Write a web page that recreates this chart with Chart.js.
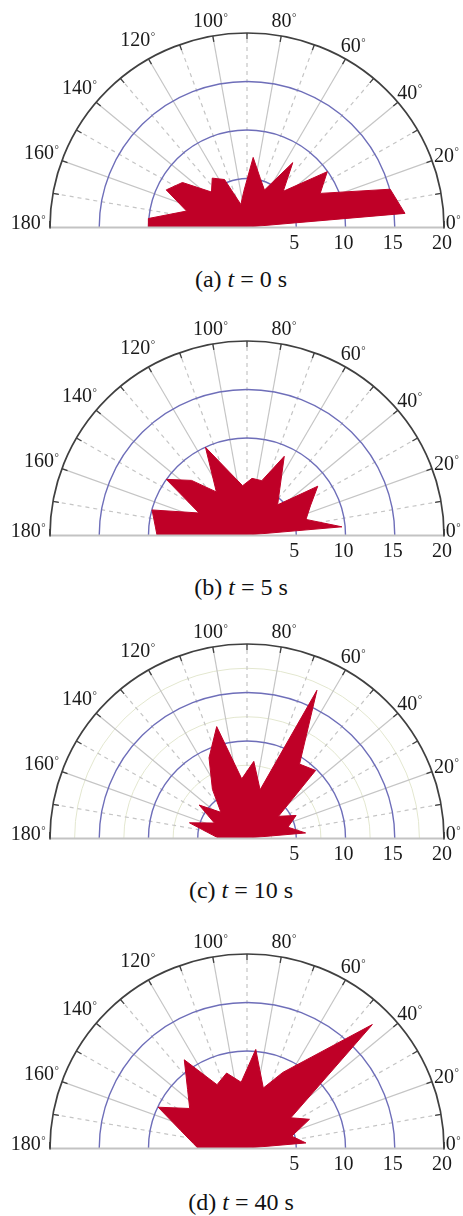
<!DOCTYPE html>
<html>
<head>
<meta charset="utf-8">
<script src="https://cdn.jsdelivr.net/npm/chart.js@4.4.1/dist/chart.umd.min.js"></script>
<style>
  html, body { margin: 0; padding: 0; background: #fff; }
  body { width: 463px; height: 1216px; position: relative; overflow: hidden; }
  canvas { position: absolute; left: 0; }
  .cap {
    position: absolute; left: 241px; transform: translate(-50%, -50%);
    font-family: "Liberation Serif", "Times New Roman", serif;
    font-size: 24px; color: #111; white-space: nowrap; line-height: 1;
  }
  .cap i { font-style: italic; }
</style>
</head>
<body>
<script>
// Direction of each polygon vertex (degrees), from 180° round to 0°
const ANGLES = [180, 175, 165, 155, 145, 135, 125, 115, 105, 95, 85, 75, 65, 55, 45, 35, 25, 15, 5, 0];

// Radial length at each direction, one series per time step
const R_T0  = [10.0, 10.05, 6.35, 9.05, 8.0, 5.1, 6.15, 5.4, 2.4, 3.7, 7.2, 5.2, 4.2, 8.1, 5.2, 9.95, 8.2, 15.05, 16.1, 0];
const R_T5  = [9.14, 9.33, 9.98, 5.37, 10.0, 7.96, 5.42, 9.98, 6.64, 5.1, 5.86, 5.8, 8.95, 5.8, 4.4, 8.77, 7.1, 6.2, 9.67, 0];
const R_T10 = [2.9, 3.5, 6.05, 3.65, 5.93, 3.74, 6.12, 9.12, 11.89, 6.12, 7.93, 5.14, 16.8, 9.3, 9.85, 3.9, 5.5, 4.3, 5.97, 0];
const R_T40 = [5.0, 5.48, 6.97, 9.95, 7.1, 8.53, 11.1, 7.2, 8.0, 6.8, 10.2, 6.4, 8.6, 11.46, 18.0, 5.43, 7.0, 4.7, 6.0, 0];

const SERIES = [R_T0, R_T5, R_T10, R_T40];
const PANEL_LETTERS = ['a', 'b', 'c', 'd'];
const PANEL_TIMES = [0, 5, 10, 40];

// Axis ticks
const RING_VALUES = [5, 10, 15, 20];
const RING_LABELS = ['5', '10', '15', '20'];
const MINOR_RING_VALUES = [2.5, 7.5, 12.5, 17.5];
const ANGLE_TICKS = [0, 20, 40, 60, 80, 100, 120, 140, 160, 180];
const R_MAX = 20;

// Page layout: baseline of each half-disc and caption centre (px)
const BASELINES = [227, 535, 838, 1148];
const CAPTION_Y = [279, 587, 890, 1202];
const CANVAS_H = 262;
const BASE_IN_CANVAS = 227;

const FILL_RED = '#bf0027';
const NUM_FONT = '20px "Liberation Serif", "Times New Roman", serif';
const DEG_FONT = '11px "Liberation Serif", "Times New Roman", serif';
const rad = d => d * Math.PI / 180;

function drawDegreeLabel(ctx, text, x, y) {
  ctx.font = NUM_FONT;
  const wn = ctx.measureText(text).width;
  ctx.font = DEG_FONT;
  const wd = ctx.measureText('\u00B0').width;
  const left = x - (wn + wd) / 2;
  const base = y + 7;
  ctx.textAlign = 'left';
  ctx.textBaseline = 'alphabetic';
  ctx.font = NUM_FONT;
  ctx.fillText(text, left, base);
  ctx.font = DEG_FONT;
  ctx.fillText('\u00B0', left + wn + 0.5, base - 6.5);
}

// Half-polar grid: spokes, rings, outer frame, tick marks and labels
const polarGrid = {
  id: 'polarGrid',
  beforeDatasetsDraw(chart, args, opts) {
    const { ctx, scales: { x, y } } = chart;
    const cx = x.getPixelForValue(0), cy = y.getPixelForValue(0);
    const rx = v => x.getPixelForValue(v) - cx;
    const ry = v => cy - y.getPixelForValue(v);
    const pt = (r, deg) => [x.getPixelForValue(r * Math.cos(rad(deg))), y.getPixelForValue(r * Math.sin(rad(deg)))];
    ctx.save();
    if (opts.minorRings) {
      ctx.strokeStyle = '#e3e7cf';
      ctx.lineWidth = 1;
      for (const v of MINOR_RING_VALUES) {
        ctx.beginPath();
        ctx.ellipse(cx, cy, rx(v), ry(v), 0, Math.PI, 2 * Math.PI);
        ctx.stroke();
      }
    }
    // spokes: solid every 20°, dashed in between
    ctx.strokeStyle = '#c5c5c5';
    ctx.lineWidth = 1.2;
    for (let a = 10; a < 180; a += 10) {
      const [px, py] = pt(R_MAX, a);
      ctx.setLineDash(a % 20 === 0 ? [] : [4, 4]);
      ctx.beginPath();
      ctx.moveTo(cx, cy);
      ctx.lineTo(px, py);
      ctx.stroke();
    }
    ctx.setLineDash([]);
    // inner rings
    ctx.strokeStyle = '#6e6eb9';
    ctx.lineWidth = 1.4;
    for (const v of RING_VALUES) {
      if (v === R_MAX) continue;
      ctx.beginPath();
      ctx.ellipse(cx, cy, rx(v), ry(v), 0, Math.PI, 2 * Math.PI);
      ctx.stroke();
    }
    // outer frame
    ctx.strokeStyle = '#404040';
    ctx.lineWidth = 1.7;
    ctx.beginPath();
    ctx.ellipse(cx, cy, rx(R_MAX), ry(R_MAX), 0, Math.PI, 2 * Math.PI);
    ctx.stroke();
    // tick marks every 10° on the frame
    ctx.lineWidth = 1.3;
    const inner = R_MAX - 6 / (rx(1));
    for (let a = 10; a < 180; a += 10) {
      const [ox, oy] = pt(R_MAX, a);
      const [ix, iy] = pt(inner, a);
      ctx.beginPath();
      ctx.moveTo(ox, oy);
      ctx.lineTo(ix, iy);
      ctx.stroke();
    }
    ctx.restore();
  },
  afterDatasetsDraw(chart) {
    const { ctx, scales: { x, y } } = chart;
    const cx = x.getPixelForValue(0), cy = y.getPixelForValue(0);
    const unit = x.getPixelForValue(1) - cx;
    const pt = (r, deg) => [x.getPixelForValue(r * Math.cos(rad(deg))), y.getPixelForValue(r * Math.sin(rad(deg)))];
    ctx.save();
    // baseline
    ctx.strokeStyle = '#c3c3c3';
    ctx.lineWidth = 2;
    ctx.beginPath();
    ctx.moveTo(x.getPixelForValue(-R_MAX), cy + 0.5);
    ctx.lineTo(x.getPixelForValue(R_MAX), cy + 0.5);
    ctx.stroke();
    ctx.strokeStyle = '#404040';
    ctx.lineWidth = 1.7;
    for (const v of [-R_MAX, R_MAX]) {
      const px = x.getPixelForValue(v);
      ctx.beginPath();
      ctx.moveTo(px, cy - 6);
      ctx.lineTo(px, cy + 1.5);
      ctx.stroke();
    }
    // angle labels
    ctx.fillStyle = '#1a1a1a';
    for (const a of ANGLE_TICKS) {
      const gap = a === 0 ? 9 : (a <= 100 ? 15 : 22);
      const [px, py] = pt(R_MAX + gap / unit, a);
      const dy = (a === 0 || a === 180) ? -5 : -1;
      drawDegreeLabel(ctx, String(a), px, py + dy);
    }
    // radial labels under the baseline
    ctx.font = NUM_FONT;
    ctx.textAlign = 'center';
    ctx.textBaseline = 'middle';
    RING_VALUES.forEach((v, i) => {
      ctx.fillText(RING_LABELS[i], x.getPixelForValue(v) - 2, cy + 17);
    });
    ctx.restore();
  }
};

SERIES.forEach((radii, i) => {
  const canvas = document.createElement('canvas');
  canvas.width = 463;
  canvas.height = CANVAS_H;
  canvas.style.top = (BASELINES[i] - BASE_IN_CANVAS) + 'px';
  document.body.appendChild(canvas);

  const cap = document.createElement('div');
  cap.className = 'cap';
  cap.style.top = CAPTION_Y[i] + 'px';
  cap.innerHTML = '(' + PANEL_LETTERS[i] + ') <i>t</i> = ' + PANEL_TIMES[i] + ' s';
  document.body.appendChild(cap);

  const points = ANGLES.map((deg, k) => ({
    x: radii[k] * Math.cos(rad(deg)),
    y: radii[k] * Math.sin(rad(deg))
  }));

  new Chart(canvas, {
    type: 'scatter',
    data: {
      datasets: [{
        data: points,
        showLine: true,
        fill: 'shape',
        backgroundColor: FILL_RED,
        borderColor: FILL_RED,
        borderWidth: 1,
        pointRadius: 0,
        tension: 0
      }]
    },
    options: {
      responsive: false,
      animation: false,
      devicePixelRatio: 1,
      events: [],
      layout: { padding: { left: 50, right: 19, top: 33, bottom: CANVAS_H - BASE_IN_CANVAS } },
      scales: {
        x: { type: 'linear', min: -R_MAX, max: R_MAX, display: false },
        y: { type: 'linear', min: 0, max: R_MAX, display: false }
      },
      plugins: {
        legend: { display: false },
        tooltip: { enabled: false },
        polarGrid: { minorRings: i === 2 }
      }
    },
    plugins: [polarGrid]
  });
});
</script>
</body>
</html>
